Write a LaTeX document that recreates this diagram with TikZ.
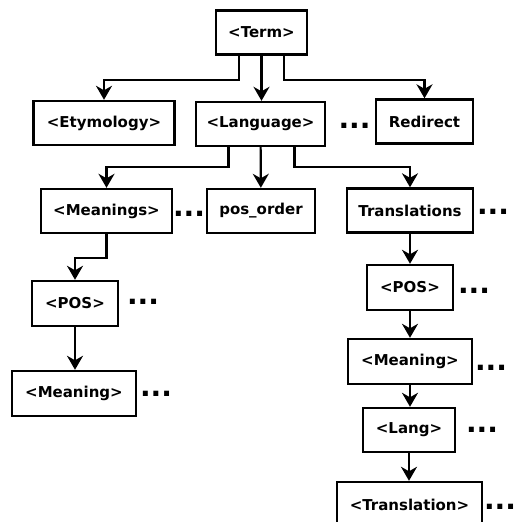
\documentclass[tikz,border=0pt]{standalone}
\usepackage{fontspec}
\setmainfont{DejaVu Sans}
\usetikzlibrary{arrows.meta}
\tikzset{
  px/.style={x=1pt, y=-1pt},
  w box/.style={draw, line width=2.4pt, inner sep=1pt, minimum height=44pt, font=\fontsize{15}{17}\selectfont\bfseries},
  w dots/.style={anchor=base, inner sep=0pt, font=\fontsize{28}{28}\selectfont\bfseries},
  w arr/.style={-{Stealth[length=14pt, width=16pt, inset=4.5pt]}, line width=2.2pt},
}

\begin{document}
\begin{tikzpicture}[px]
\useasboundingbox (0,0) rectangle (516,522);
% top levels
\node[w box, minimum width=91pt] (term) at (261.5,32.5) {<Term>};
\node[w box, minimum width=141pt] (ety) at (104,123) {<Etymology>};
\node[w box, minimum width=129pt] (lang) at (260.5,124) {<Language>};
\node[w box, minimum width=97pt] (redir) at (424.5,121.5) {Redirect};
\node[w box, minimum width=131pt] (means) at (106.5,211) {<Meanings>};
\node[w box, minimum width=108pt] (posord) at (261,211) {pos\_order};
\node[w box, minimum width=126pt] (transs) at (410,210.5) {Translations};
% left branch
\node[w box, minimum width=86pt, minimum height=45pt] (posl) at (75,303.5) {<POS>};
\node[w box, minimum width=124pt, minimum height=45pt] (meanl) at (74,393.5) {<Meaning>};
% right branch
\node[w box, minimum width=86pt, minimum height=45pt] (posr) at (410,287.5) {<POS>};
\node[w box, minimum width=124pt, minimum height=45pt] (meanr) at (410,361.5) {<Meaning>};
\node[w box, minimum width=92pt] (langr) at (409,430) {<Lang>};
\node[w box, minimum width=145pt, minimum height=45pt] (transr) at (409.5,504.5) {<Translation>};
% dots
\node[w dots] (d1) at (354.5,128) {...};
\node[w dots] (d2) at (189,216) {...};
\node[w dots] (d3) at (493,214) {...};
\node[w dots] (d4) at (143,304) {...};
\node[w dots] (d5) at (156,396) {...};
\node[w dots] (d6) at (474,293) {...};
\node[w dots] (d7) at (491,370) {...};
\node[w dots] (d8) at (482,432) {...};
\node[w dots] (d9) at (500,509) {...};
% arrows
\draw[w arr] ([xshift=-22.5pt]term.south) -- ++(0,24) -| (ety.north);
\draw[w arr] (term.south) -- (term.south|-lang.north);
\draw[w arr] ([xshift=22.5pt]term.south) -- ++(0,24) -| (redir.north);
\draw[w arr] ([xshift=-32pt]lang.south) -- ++(0,20) -| (means.north);
\draw[w arr] (lang) -- (posord);
\draw[w arr] ([xshift=34pt]lang.south) -- ++(0,20) -| (transs.north);
\draw[w arr] (means.south) -- ++(0,24) -| (posl.north);
\draw[w arr] (posl.south) -- (posl.south|-meanl.north);
\draw[w arr] (transs) -- (posr);
\draw[w arr] (posr) -- (meanr);
\draw[w arr] (meanr.south) -- (meanr.south|-langr.north);
\draw[w arr] (langr.south) -- (langr.south|-transr.north);
\end{tikzpicture}
\end{document}
